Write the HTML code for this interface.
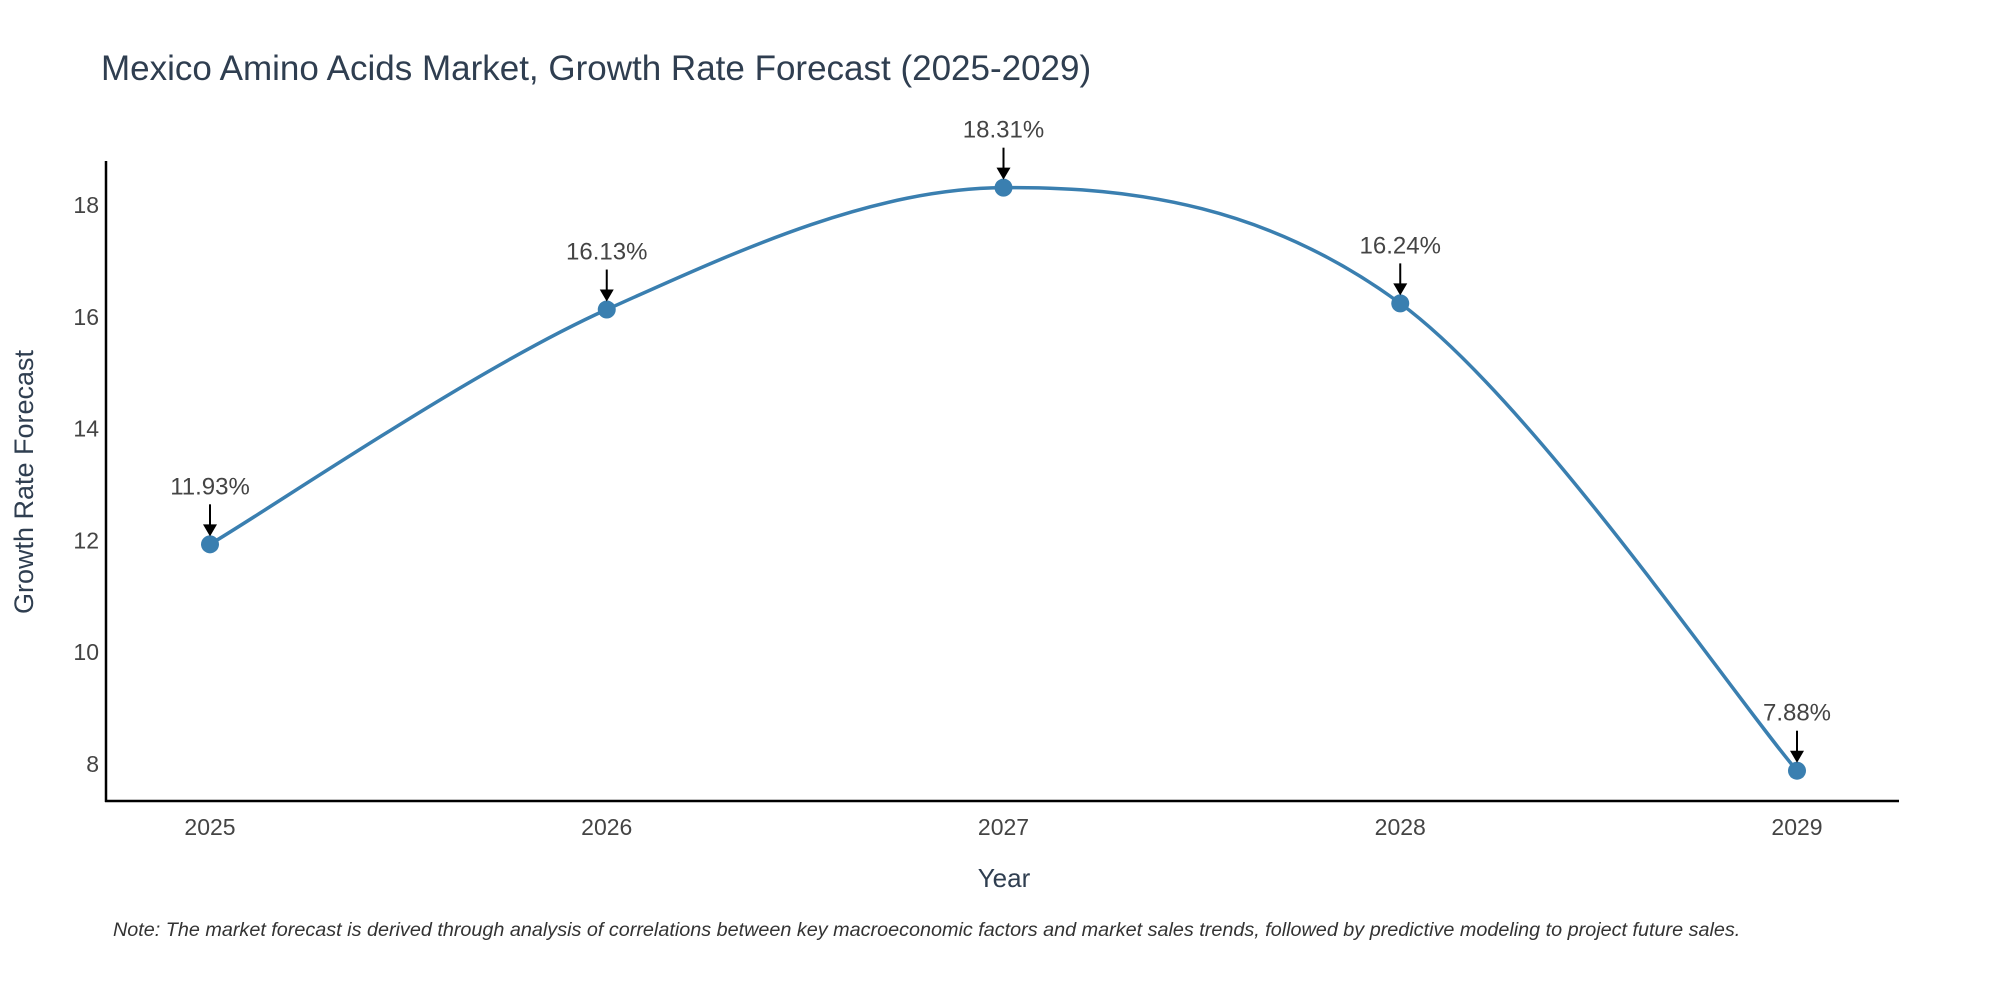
<!DOCTYPE html>
<html><head><meta charset="utf-8">
<style>
html,body{margin:0;padding:0;background:#fff;}
svg{display:block;font-family:"Liberation Sans","DejaVu Sans",sans-serif;}
</style></head>
<body>
<svg id="chart" width="2000" height="1000" viewBox="0 0 2000 1000">
<text x="101" y="80" font-size="35" fill="#2f3e50">Mexico Amino Acids Market, Growth Rate Forecast (2025-2029)</text>
<line x1="106" y1="161" x2="106" y2="802" stroke="#000" stroke-width="2.5"/>
<line x1="105" y1="801" x2="1899" y2="801" stroke="#000" stroke-width="2.5"/>
<g id="yticks"></g>
<g id="xticks"></g>
<path id="line" fill="none" stroke="#3a7fb0" stroke-width="3.5"/>
<g id="points"></g>
<g id="annots"></g>
<text x="1004" y="887" font-size="26" fill="#2f3e50" text-anchor="middle">Year</text>
<text transform="translate(33,482) rotate(-90)" font-size="27" fill="#2f3e50" text-anchor="middle">Growth Rate Forecast</text>
<text x="113" y="936" font-size="19.8" font-style="italic" fill="#333">Note: The market forecast is derived through analysis of correlations between key macroeconomic factors and market sales trends, followed by predictive modeling to project future sales.</text>
</svg>
<script>
const years = [2025, 2026, 2027, 2028, 2029];
const values = [11.93, 16.13, 18.31, 16.24, 7.88];
const labels = ["11.93%", "16.13%", "18.31%", "16.24%", "7.88%"];
const yTicks = [8, 10, 12, 14, 16, 18];

const NS = "http://www.w3.org/2000/svg";
function xs(v){ return 210 + (v - 2025) * 396.75; }
function ys(v){ return 764 - (v - 8) * 55.9; }
function mk(tag, attrs, parent){
  const e = document.createElementNS(NS, tag);
  for (const k in attrs) e.setAttribute(k, attrs[k]);
  parent.appendChild(e);
  return e;
}
const yt = document.getElementById('yticks');
yTicks.forEach(t => {
  const e = mk('text', {x: 99, y: ys(t) + 8, 'font-size': 23, fill: '#444', 'text-anchor': 'end'}, yt);
  e.textContent = t;
  
  
});
const xt = document.getElementById('xticks');
years.forEach(y => {
  const e = mk('text', {x: xs(y), y: 835, 'font-size': 23, fill: '#444', 'text-anchor': 'middle'}, xt);
  e.textContent = y;
  
  
});
const P = years.map((y, i) => [xs(y), ys(values[i])]);
let d = `M${P[0][0]},${P[0][1]}`;
const k = 1/6;
for (let i = 0; i < P.length - 1; i++) {
  const p0 = P[Math.max(i - 1, 0)], p1 = P[i], p2 = P[i + 1], p3 = P[Math.min(i + 2, P.length - 1)];
  const c1 = [p1[0] + (p2[0] - p0[0]) * k, p1[1] + (p2[1] - p0[1]) * k];
  const c2 = [p2[0] - (p3[0] - p1[0]) * k, p2[1] - (p3[1] - p1[1]) * k];
  d += ` C${c1[0]},${c1[1]} ${c2[0]},${c2[1]} ${p2[0]},${p2[1]}`;
}
document.getElementById('line').setAttribute('d', d);
const pts = document.getElementById('points');
const an = document.getElementById('annots');
P.forEach((p, i) => {
  const c = mk('circle', {cx: p[0], cy: p[1], r: 9, fill: '#3a7fb0'}, pts);
  
  
  const l = mk('line', {x1: p[0], y1: p[1] - 40, x2: p[0], y2: p[1] - 18, stroke: '#000', 'stroke-width': 2}, an);
  
  
  const h = mk('polygon', {points: `${p[0]-7},${p[1]-20} ${p[0]+7},${p[1]-20} ${p[0]},${p[1]-8}`, fill: '#000'}, an);
  
  
  const t = mk('text', {x: p[0], y: p[1] - 50, 'font-size': 24, fill: '#444', 'text-anchor': 'middle'}, an);
  t.textContent = labels[i];
  
  
});
</script>
</body></html>
